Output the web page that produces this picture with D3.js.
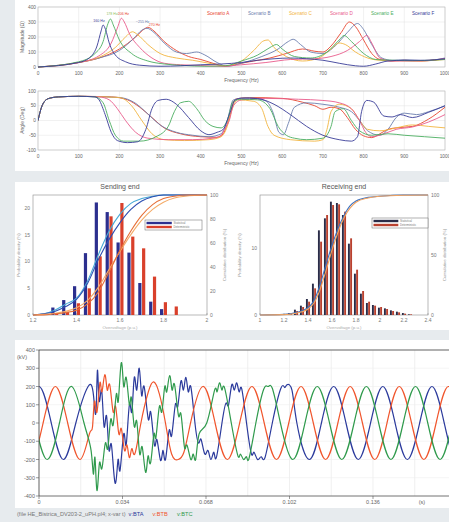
<!DOCTYPE html>
<html>
<head>
<meta charset="utf-8">
<script src="https://cdn.jsdelivr.net/npm/d3@7"></script>
<style>
  body { margin: 0; background: #e7ebee; }
  svg { display: block; font-family: "Liberation Sans", Arial, sans-serif; }
</style>
</head>
<body>
<svg id="chart" width="449" height="522"></svg>
<script>
// ---------------- frequency scan (top) ----------------
var scenarioNames = ["Scenario A", "Scenario B", "Scenario C", "Scenario D", "Scenario E", "Scenario F"];
var scenarioColors = ["#e8452f", "#6b7eae", "#f2b43e", "#e95b8b", "#4bae60", "#393c97"];
var freqTicks = [0, 100, 200, 300, 400, 500, 600, 700, 800, 900, 1000];
var magTicks = [0, 100, 200, 300, 400];
var angTicks = [-100, -50, 0, 50, 100];

var magA = [[0,0],[100,30],[150,60],[200,120],[240,200],[262,255],[270,265],[285,240],[310,170],[340,110],[370,70],[400,50],[430,25],[460,5],[490,20],[530,40],[570,60],[610,90],[650,120],[680,105],[700,100],[720,140],[745,230],[765,300],[780,270],[800,180],[820,90],[840,50],[870,40],[900,45],[940,40],[1000,55]];
var magB = [[0,0],[100,30],[150,60],[200,110],[235,190],[255,245],[268,258],[285,230],[310,160],[340,100],[365,90],[390,100],[410,80],[440,30],[465,5],[500,25],[550,70],[590,120],[615,170],[627,185],[645,150],[670,100],[700,90],[730,140],[760,230],[785,290],[800,250],[820,150],[845,60],[870,45],[900,48],[950,42],[1000,60]];
var magC = [[0,0],[100,30],[150,65],[190,130],[215,200],[232,235],[245,215],[270,150],[300,90],[340,60],[380,45],[420,25],[460,8],[500,40],[530,110],[555,175],[565,180],[580,130],[610,70],[650,40],[690,60],[720,120],[740,160],[755,150],[780,100],[810,60],[840,45],[880,42],[930,40],[1000,50]];
var magD = [[0,0],[100,30],[150,75],[180,160],[195,260],[205,325],[212,300],[225,220],[250,130],[280,60],[310,25],[350,15],[400,10],[450,5],[500,15],[560,30],[620,50],[680,55],[720,70],[760,110],[790,170],[808,210],[820,160],[840,60],[870,40],[920,40],[1000,55]];
var magE = [[0,0],[100,35],[140,90],[160,170],[172,290],[178,320],[185,280],[200,180],[230,90],[270,40],[310,20],[360,10],[410,5],[460,8],[500,40],[540,80],[570,130],[586,150],[600,120],[630,70],[670,60],[710,100],[740,180],[752,210],[770,170],[800,90],[830,50],[870,45],[920,42],[1000,50]];
var magF = [[0,0],[100,30],[130,70],[145,140],[155,240],[160,280],[166,250],[175,160],[190,80],[215,35],[250,12],[300,5],[350,8],[400,15],[450,20],[500,30],[540,45],[580,55],[620,60],[660,55],[700,45],[740,25],[780,8],[800,5],[830,20],[860,40],[900,45],[950,45],[1000,55]];

var angA = [[0,0],[10,50],[25,74],[50,80],[100,82],[180,80],[220,70],[250,45],[280,10],[310,-25],[350,-45],[400,-55],[440,-57],[455,-45],[470,10],[485,72],[520,78],[600,75],[650,62],[680,50],[700,38],[720,45],[740,40],[760,10],[780,-30],[800,-52],[820,-58],[840,-45],[860,-30],[880,-25],[920,-20],[960,5],[1000,45]];
var angB = [[0,0],[10,50],[25,74],[50,80],[100,82],[200,78],[240,58],[270,22],[300,-15],[340,-40],[380,-50],[420,-55],[450,-45],[465,0],[480,70],[520,77],[560,66],[578,25],[592,-40],[603,-48],[615,-10],[630,45],[660,60],[700,55],[740,45],[770,30],[790,0],[810,-35],[840,-50],[860,-30],[880,10],[900,25],[930,20],[960,30],[1000,50]];
var angC = [[0,0],[10,50],[25,74],[50,80],[100,82],[200,78],[230,50],[255,0],[280,-45],[310,-65],[360,-68],[420,-65],[450,-55],[465,-20],[475,30],[490,70],[530,65],[550,40],[565,-20],[580,-50],[620,-65],[680,-70],[700,-65],[710,-30],[720,30],[740,55],[770,40],[790,0],[810,-30],[840,-35],[880,-25],[920,-15],[960,-20],[1000,-25]];
var angD = [[0,0],[10,50],[25,74],[50,80],[100,82],[150,80],[175,70],[195,40],[215,0],[240,-40],[270,-60],[320,-65],[380,-65],[430,-60],[450,-50],[460,-25],[470,0],[480,50],[500,70],[560,75],[640,72],[700,68],[740,60],[770,40],[790,0],[805,-40],[820,-55],[850,-45],[880,-30],[920,-22],[960,-5],[1000,20]];
var angE = [[0,0],[10,50],[25,74],[50,80],[100,82],[140,80],[160,60],[175,0],[190,-50],[210,-70],[250,-70],[290,-55],[320,-20],[335,30],[350,60],[370,65],[390,40],[410,0],[430,-20],[450,-25],[465,0],[480,65],[500,72],[540,70],[570,40],[590,-20],[610,-50],[630,-60],[660,-65],[700,-60],[720,-20],[730,30],[750,40],[770,0],[790,-35],[820,-50],[860,-45],[900,-50],[950,-55],[1000,-60]];
var angF = [[0,0],[10,50],[25,74],[50,80],[100,82],[140,80],[150,70],[165,20],[180,-40],[195,-68],[220,-75],[245,-72],[265,-30],[280,40],[295,68],[315,72],[340,55],[370,10],[400,-35],[420,-48],[440,-40],[455,-30],[470,20],[485,70],[500,76],[540,74],[580,55],[620,20],[660,-20],[700,-50],[740,-65],[770,-70],[785,-55],[795,30],[808,68],[825,62],[850,15],[870,12],[890,20],[920,10],[960,28],[1000,50]];

var peakLabels = ["160 Hz", "178 Hz", "206 Hz", "~255 Hz", "270 Hz"];
var peakLabelFreq = [150, 182, 210, 257, 286];
var peakLabelMag = [300, 347, 347, 293, 273];
var peakLabelColor = ["#393c97", "#8fc060", "#e8452f", "#6b7eae", "#e8452f"];

// ---------------- overvoltage histograms (middle) ----------------
var sendBins = [1.30, 1.35, 1.40, 1.45, 1.50, 1.55, 1.60, 1.65, 1.70, 1.75, 1.80, 1.85];
var sendBlue = [1.4, 2.8, 5.4, 11.6, 21.1, 19.3, 13.6, 11.7, 6.0, 2.5, 1.1, 0];
var sendRed = [0.3, 0.6, 2.2, 5.0, 11.0, 18.5, 21.0, 14.7, 12.5, 7.2, 2.4, 1.6];
var sendCdfX = [1.2, 1.25, 1.3, 1.35, 1.4, 1.45, 1.5, 1.55, 1.6, 1.65, 1.7, 1.75, 1.8, 1.85, 1.9, 2.0];
var sendCdfBlue = [0, 1, 3, 7, 13, 26, 46, 63, 77, 88, 95, 98.5, 100, 100, 100, 100];
var sendCdfCyan = [0, 1, 4, 9, 14, 28, 50, 70, 84, 93, 97, 99, 100, 100, 100, 100];
var sendCdfRed = [0, 0, 1, 2, 4, 9, 19, 36, 54, 70, 83, 92, 97, 99, 100, 100];
var sendCdfOrange = [0, 0.5, 1.5, 3, 6, 12, 23, 38, 53, 67, 79, 88, 94, 97.5, 99, 100];

var recvBins = [1.25, 1.30, 1.35, 1.40, 1.45, 1.50, 1.55, 1.60, 1.65, 1.70, 1.75, 1.80, 1.85, 1.90, 1.95, 2.00, 2.05, 2.10, 2.15, 2.20, 2.25];
var recvDark = [0.3, 0.8, 1.4, 2.4, 4.7, 12.7, 14.5, 17.0, 16.8, 15.0, 10.7, 6.2, 3.2, 1.8, 1.5, 1.1, 1.0, 0.7, 0.5, 0.3, 0.1];
var recvRed = [0.2, 0.6, 1.2, 2.0, 4.0, 11.0, 15.0, 16.5, 16.6, 15.5, 11.5, 6.8, 3.6, 2.0, 1.4, 1.2, 0.9, 0.6, 0.4, 0.2, 0.1];
var recvCdfX = [1.0, 1.2, 1.3, 1.4, 1.45, 1.5, 1.55, 1.6, 1.65, 1.7, 1.75, 1.8, 1.9, 2.0, 2.2, 2.4];
var recvCdfBlue = [0, 0.5, 2, 6, 12, 25, 42, 58, 72, 83, 91, 95, 98, 99, 100, 100];
var recvCdfOrange = [0, 0.3, 1.5, 5, 10, 21, 37, 54, 69, 81, 89, 94, 97.5, 99, 99.8, 100];
var histLegend = ["Statistical", "Deterministic"];

// ---------------- three phase voltages (bottom) ----------------
var timeTicks = [0, 0.034, 0.068, 0.102, 0.136, 0.17];
var kvTicks = [-400, -300, -200, -100, 0, 100, 200, 300, 400];
var waveNames = ["v:BTA", "v:BTB", "v:BTC"];
var waveColors = ["#2b3a9c", "#f0552c", "#2f9a4c"];

var waveA = [[-0.005,0],[0,200],[0.005,0],[0.01,-200],[0.015,0],[0.02,200],[0.0222,150],[0.0232,60],[0.0238,290],[0.0245,120],[0.0255,180],[0.0265,-20],[0.0275,40],[0.0285,-150],[0.0295,-120],[0.031,-330],[0.0322,-200],[0.033,-260],[0.0345,-60],[0.0355,-120],[0.0368,100],[0.0378,60],[0.0388,250],[0.0398,180],[0.0408,300],[0.0418,150],[0.0428,200],[0.0445,20],[0.0455,60],[0.047,-120],[0.048,-90],[0.0495,-205],[0.0505,-150],[0.0515,-200],[0.053,-40],[0.054,-70],[0.0555,100],[0.0565,90],[0.0578,230],[0.0588,180],[0.0598,250],[0.0608,170],[0.0618,200],[0.0635,0],[0.065,-110],[0.066,-90],[0.0675,-170],[0.0688,-150],[0.07,-200],[0.0712,-160],[0.0722,-190],[0.0745,0],[0.0762,110],[0.0772,100],[0.0785,210],[0.0795,180],[0.0805,220],[0.0815,170],[0.0825,190],[0.0845,0],[0.0865,-170],[0.0875,-160],[0.089,-200],[0.0905,-185],[0.092,-190],[0.095,0],[0.0985,190],[0.1,195],[0.101,210],[0.103,180],[0.105,0],[0.11,-200],[0.115,0],[0.12,200],[0.125,0],[0.13,-200],[0.135,0],[0.14,200],[0.145,0],[0.15,-200],[0.155,0],[0.16,200],[0.165,0],[0.17,-200],[0.175,0],[0.18,200]];
var waveB = [[-0.00833,0],[-0.00333,-200],[0.00167,0],[0.00667,200],[0.01167,0],[0.01667,-200],[0.0205,-60],[0.0218,-20],[0.0226,120],[0.0236,60],[0.0248,220],[0.0256,170],[0.0268,265],[0.0278,180],[0.0288,210],[0.0302,60],[0.0312,90],[0.0325,-60],[0.0335,-30],[0.0348,-150],[0.0358,-120],[0.0368,-190],[0.0378,-140],[0.039,-170],[0.0415,0],[0.0445,170],[0.0467,225],[0.049,160],[0.0515,0],[0.054,-170],[0.0567,-200],[0.059,-160],[0.0617,0],[0.0667,200],[0.0717,0],[0.0767,-200],[0.0817,0],[0.0867,200],[0.0917,0],[0.0967,-200],[0.1017,0],[0.1067,200],[0.1117,0],[0.1167,-200],[0.1217,0],[0.1267,200],[0.1317,0],[0.1367,-200],[0.1417,0],[0.1467,200],[0.1517,0],[0.1567,-200],[0.1617,0],[0.1667,200],[0.1717,0],[0.1767,-200],[0.1817,0]];
var waveC = [[-0.01167,0],[-0.00667,200],[-0.00167,0],[0.00333,-200],[0.00833,0],[0.01333,200],[0.01833,0],[0.0212,-150],[0.0222,-280],[0.0228,-190],[0.0236,-370],[0.0246,-220],[0.0256,-250],[0.027,-110],[0.028,-140],[0.0292,20],[0.0302,-10],[0.0315,160],[0.0323,120],[0.0335,330],[0.0345,200],[0.0355,250],[0.0368,100],[0.0376,140],[0.0388,-20],[0.0398,10],[0.041,-170],[0.042,-130],[0.0434,-270],[0.0444,-180],[0.0454,-220],[0.0468,-60],[0.0476,-80],[0.049,90],[0.05,60],[0.0512,200],[0.052,170],[0.0532,260],[0.0542,180],[0.0552,210],[0.0568,40],[0.0578,50],[0.0592,-130],[0.0602,-120],[0.0618,-200],[0.0628,-170],[0.0638,-200],[0.0652,-60],[0.0683,0],[0.0715,180],[0.0725,170],[0.0735,220],[0.0745,180],[0.0755,195],[0.0783,0],[0.081,-180],[0.082,-170],[0.0833,-200],[0.0845,-185],[0.0855,-195],[0.0883,0],[0.0915,185],[0.0933,200],[0.095,190],[0.0983,0],[0.1033,-200],[0.1083,0],[0.1133,200],[0.1183,0],[0.1233,-200],[0.1283,0],[0.1333,200],[0.1383,0],[0.1433,-200],[0.1483,0],[0.1533,200],[0.1583,0],[0.1633,-200],[0.1683,0],[0.1733,200],[0.1783,0]];

var svg = d3.select("#chart");
var clipId = 0;

function addClip(x, y, w, h) {
  clipId++;
  svg.append("clipPath").attr("id", "clip" + clipId)
    .append("rect").attr("x", x).attr("y", y).attr("width", w).attr("height", h);
  return "url(#clip" + clipId + ")";
}

// white panels
svg.append("rect").attr("x", 15).attr("y", 0).attr("width", 434).attr("height", 171).attr("fill", "#fff");
svg.append("rect").attr("x", 15).attr("y", 182).attr("width", 434).attr("height", 148).attr("fill", "#fff");
svg.append("rect").attr("x", 15).attr("y", 340).attr("width", 434).attr("height", 168).attr("fill", "#fff");

// ---------- frequency plots ----------
var xF = d3.scaleLinear().domain([0, 1000]).range([38, 445]);

function drawFreqPlot(series, y, yTicks, yLabel) {
  var top = y.range()[1], bottom = y.range()[0];
  var g = svg.append("g");

  g.selectAll(".vgrid").data(freqTicks).join("line")
    .attr("x1", d => xF(d)).attr("x2", d => xF(d))
    .attr("y1", top).attr("y2", bottom)
    .attr("stroke", "#e3e3e3").attr("stroke-width", 0.5);
  g.selectAll(".hgrid").data(yTicks).join("line")
    .attr("x1", xF(0)).attr("x2", xF(1000))
    .attr("y1", d => y(d)).attr("y2", d => y(d))
    .attr("stroke", "#e3e3e3").attr("stroke-width", 0.5);
  g.append("rect").attr("x", xF(0)).attr("y", top)
    .attr("width", xF(1000) - xF(0)).attr("height", bottom - top)
    .attr("fill", "none").attr("stroke", "#bbb").attr("stroke-width", 0.6);

  var clip = addClip(xF(0), top - 1, xF(1000) - xF(0), bottom - top + 2);
  var line = d3.line().x(d => xF(d[0])).y(d => y(d[1])).curve(d3.curveMonotoneX);
  g.append("g").attr("clip-path", clip)
    .selectAll("path").data(series).join("path")
    .attr("d", line)
    .attr("fill", "none")
    .attr("stroke", (d, i) => scenarioColors[i])
    .attr("stroke-width", 0.9);

  g.selectAll(".xl").data(freqTicks).join("text")
    .attr("x", d => xF(d)).attr("y", bottom + 8)
    .attr("text-anchor", "middle").attr("font-size", 4.8).attr("fill", "#666")
    .text(d => d);
  g.selectAll(".yl").data(yTicks).join("text")
    .attr("x", xF(0) - 2).attr("y", d => y(d) + 1.6)
    .attr("text-anchor", "end").attr("font-size", 4.8).attr("fill", "#666")
    .text(d => d);
  g.append("text")
    .attr("x", (xF(0) + xF(1000)) / 2).attr("y", bottom + 15)
    .attr("text-anchor", "middle").attr("font-size", 5).attr("fill", "#666")
    .text("Frequency (Hz)");
  g.append("text")
    .attr("transform", "translate(24," + ((top + bottom) / 2) + ") rotate(-90)")
    .attr("text-anchor", "middle").attr("font-size", 5).attr("fill", "#666")
    .text(yLabel);
}

var yMag = d3.scaleLinear().domain([0, 400]).range([67, 7]);
drawFreqPlot([magA, magB, magC, magD, magE, magF], yMag, magTicks, "Magnitude (Ω)");

var yAng = d3.scaleLinear().domain([-100, 100]).range([150, 91]);
drawFreqPlot([angA, angB, angC, angD, angE, angF], yAng, angTicks, "Angle (Deg)");

// legend on the magnitude plot
svg.selectAll(".scen").data(scenarioNames).join("text")
  .attr("x", (d, i) => 207 + i * 41).attr("y", 14.5)
  .attr("font-size", 4.6).attr("fill", (d, i) => scenarioColors[i])
  .text(d => d);

// peak labels
svg.selectAll(".peak").data(peakLabels).join("text")
  .attr("x", (d, i) => xF(peakLabelFreq[i])).attr("y", (d, i) => yMag(peakLabelMag[i]))
  .attr("text-anchor", "middle").attr("font-size", 3.6)
  .attr("fill", (d, i) => peakLabelColor[i])
  .text(d => d);

// ---------- histograms ----------
function drawHist(opt) {
  var x = d3.scaleLinear().domain(opt.xDomain).range(opt.xRange);
  var yL = d3.scaleLinear().domain([0, opt.yMax]).range([315, 195]);
  var yR = d3.scaleLinear().domain([0, 100]).range([315, 195]);
  var g = svg.append("g");
  var x0 = opt.xRange[0], x1 = opt.xRange[1];

  g.append("rect").attr("x", x0).attr("y", 195).attr("width", x1 - x0).attr("height", 120)
    .attr("fill", "#fff").attr("stroke", "#8a8a8a").attr("stroke-width", 0.6);

  var bw = opt.barW;
  g.selectAll(".b1").data(opt.bins).join("rect")
    .attr("x", d => x(d) - bw - opt.gap / 2)
    .attr("y", (d, i) => yL(opt.s1[i]))
    .attr("width", bw)
    .attr("height", (d, i) => 315 - yL(opt.s1[i]))
    .attr("fill", opt.c1[0]);
  g.selectAll(".b2").data(opt.bins).join("rect")
    .attr("x", d => x(d) + opt.gap / 2)
    .attr("y", (d, i) => yL(opt.s2[i]))
    .attr("width", bw)
    .attr("height", (d, i) => 315 - yL(opt.s2[i]))
    .attr("fill", opt.c1[1]);

  var line = d3.line().x(d => x(d[0])).y(d => yR(d[1])).curve(d3.curveMonotoneX);
  opt.cdfs.forEach(function (c, k) {
    g.append("path")
      .attr("d", line(opt.cdfX.map((v, i) => [v, c[i]])))
      .attr("fill", "none").attr("stroke", opt.cdfColors[k]).attr("stroke-width", 1.1);
  });

  g.selectAll(".xt").data(opt.xTicks).join("text")
    .attr("x", d => x(d)).attr("y", 322)
    .attr("text-anchor", "middle").attr("font-size", 5).attr("fill", "#777")
    .text(d => d);
  g.selectAll(".ylt").data(opt.yTicks).join("text")
    .attr("x", x0 - 3).attr("y", d => yL(d) + 1.8)
    .attr("text-anchor", "end").attr("font-size", 5).attr("fill", "#777")
    .text(d => d);
  g.selectAll(".yrt").data(opt.rTicks).join("text")
    .attr("x", x1 + 3).attr("y", d => yR(d) + 1.8)
    .attr("text-anchor", "start").attr("font-size", 5).attr("fill", "#777")
    .text(d => d);
  // small tick marks
  g.selectAll(".xtm").data(opt.xTicks).join("line")
    .attr("x1", d => x(d)).attr("x2", d => x(d)).attr("y1", 315).attr("y2", 313)
    .attr("stroke", "#888").attr("stroke-width", 0.5);

  g.append("text").attr("x", (x0 + x1) / 2).attr("y", 189)
    .attr("text-anchor", "middle").attr("font-size", 7).attr("fill", "#555")
    .text(opt.title);
  g.append("text")
    .attr("transform", "translate(" + opt.lTitleX + ",255) rotate(-90)")
    .attr("text-anchor", "middle").attr("font-size", 4.4).attr("fill", "#999")
    .text("Probability density (%)");
  g.append("text")
    .attr("transform", "translate(" + opt.rTitleX + ",255) rotate(-90)")
    .attr("text-anchor", "middle").attr("font-size", 4.4).attr("fill", "#999")
    .text("Cumulative distribution (%)");
  g.append("text").attr("x", (x0 + x1) / 2).attr("y", 329)
    .attr("text-anchor", "middle").attr("font-size", 4.4).attr("fill", "#aaa")
    .text("Overvoltage (p.u.)");

  // legend
  var lg = g.append("g").attr("transform", "translate(" + opt.legX + "," + opt.legY + ")");
  lg.append("rect").attr("x", 0).attr("y", 0).attr("width", opt.legW).attr("height", 10)
    .attr("fill", "#fff").attr("stroke", "#666").attr("stroke-width", 0.5);
  histLegend.forEach(function (name, i) {
    lg.append("line").attr("x1", 1.5).attr("x2", opt.legW * 0.47)
      .attr("y1", 3 + i * 4).attr("y2", 3 + i * 4)
      .attr("stroke", opt.c1[i]).attr("stroke-width", 2.4);
    lg.append("text").attr("x", opt.legW * 0.5).attr("y", 4 + i * 4)
      .attr("font-size", 2.8).attr("fill", "#777").text(name);
  });
}

drawHist({
  title: "Sending end", xDomain: [1.2, 2], xRange: [33, 207], yMax: 22.5,
  bins: sendBins, s1: sendBlue, s2: sendRed, c1: ["#2c2f8e", "#d9402b"], barW: 3.2, gap: 0.6,
  cdfX: sendCdfX, cdfs: [sendCdfCyan, sendCdfBlue, sendCdfOrange, sendCdfRed],
  cdfColors: ["#46a9d6", "#2e4fb2", "#f4ab68", "#e66f38"],
  xTicks: [1.2, 1.4, 1.6, 1.8, 2], yTicks: [0, 5, 10, 15, 20], rTicks: [0, 20, 40, 60, 80, 100],
  lTitleX: 20, rTitleX: 226, legX: 145, legY: 220, legW: 57
});

drawHist({
  title: "Receiving end", xDomain: [1, 2.4], xRange: [260, 428], yMax: 18,
  bins: recvBins, s1: recvDark, s2: recvRed, c1: ["#2a2c48", "#b9412f"], barW: 1.9, gap: 0.3,
  cdfX: recvCdfX, cdfs: [recvCdfBlue, recvCdfOrange],
  cdfColors: ["#3d72c2", "#f2a25e"],
  xTicks: [1, 1.2, 1.4, 1.6, 1.8, 2, 2.2, 2.4], yTicks: [0, 10], rTicks: [0, 50, 100],
  lTitleX: 241, rTitleX: 446, legX: 372, legY: 218, legW: 56
});

// ---------- voltage waveforms ----------
var xT = d3.scaleLinear().domain([0, 0.17]).range([39, 456.5]);
var yV = d3.scaleLinear().domain([-400, 400]).range([496, 350]);

var gw = svg.append("g");
var gridT = d3.range(0, 0.18, 0.017);
gw.selectAll(".tg").data(gridT).join("line")
  .attr("x1", d => xT(d)).attr("x2", d => xT(d)).attr("y1", 350).attr("y2", 496)
  .attr("stroke", "#e6e6e6").attr("stroke-width", 0.6);
gw.selectAll(".vg").data(kvTicks).join("line")
  .attr("x1", xT(0)).attr("x2", 449).attr("y1", d => yV(d)).attr("y2", d => yV(d))
  .attr("stroke", "#eeeeee").attr("stroke-width", 0.6);

var wclip = addClip(xT(0), 340, 449 - xT(0), 160);
var wline = d3.line().x(d => xT(d[0])).y(d => yV(d[1])).curve(d3.curveNatural);
gw.append("g").attr("clip-path", wclip)
  .selectAll("path").data([waveA, waveB, waveC]).join("path")
  .attr("d", wline)
  .attr("fill", "none")
  .attr("stroke", (d, i) => waveColors[i])
  .attr("stroke-width", 1.2)
  .attr("stroke-linejoin", "round");

// frame
gw.append("line").attr("x1", xT(0)).attr("x2", 449).attr("y1", 350).attr("y2", 350)
  .attr("stroke", "#666").attr("stroke-width", 1);
gw.append("line").attr("x1", xT(0)).attr("x2", 449).attr("y1", 496).attr("y2", 496)
  .attr("stroke", "#555").attr("stroke-width", 0.8);
gw.append("line").attr("x1", xT(0)).attr("x2", xT(0)).attr("y1", 350).attr("y2", 496)
  .attr("stroke", "#444").attr("stroke-width", 0.8);

gw.selectAll(".ytk").data(kvTicks).join("line")
  .attr("x1", xT(0) - 3).attr("x2", xT(0)).attr("y1", d => yV(d)).attr("y2", d => yV(d))
  .attr("stroke", "#555").attr("stroke-width", 0.6);
gw.selectAll(".ytl").data(kvTicks).join("text")
  .attr("x", xT(0) - 4).attr("y", d => yV(d) + 2)
  .attr("text-anchor", "end").attr("font-size", 5.5).attr("fill", "#666")
  .text(d => d);
gw.append("text").attr("x", 17).attr("y", 359)
  .attr("font-size", 5.5).attr("fill", "#666").text("(kV)");

gw.selectAll(".xtk").data(timeTicks).join("line")
  .attr("x1", d => xT(d)).attr("x2", d => xT(d)).attr("y1", 496).attr("y2", 499)
  .attr("stroke", "#555").attr("stroke-width", 0.6);
gw.selectAll(".xtl").data(timeTicks).join("text")
  .attr("x", d => xT(d)).attr("y", 504)
  .attr("text-anchor", "middle").attr("font-size", 5.5).attr("fill", "#666")
  .text(d => d === 0 ? "0" : d.toFixed(3));
gw.append("text").attr("x", 422).attr("y", 504)
  .attr("text-anchor", "middle").attr("font-size", 5.5).attr("fill", "#666").text("(s)");

// caption
var cap = svg.append("text").attr("x", 17).attr("y", 516).attr("font-size", 5.6).attr("fill", "#777")
  .style("white-space", "pre").attr("xml:space", "preserve");
cap.append("tspan").text("(file HE_Bistrica_DV203-2_uPH.pl4; x-var t)  ");
waveNames.forEach(function (n, i) {
  cap.append("tspan").attr("fill", waveColors[i]).text(n + "      ");
});
</script>
</body>
</html>
